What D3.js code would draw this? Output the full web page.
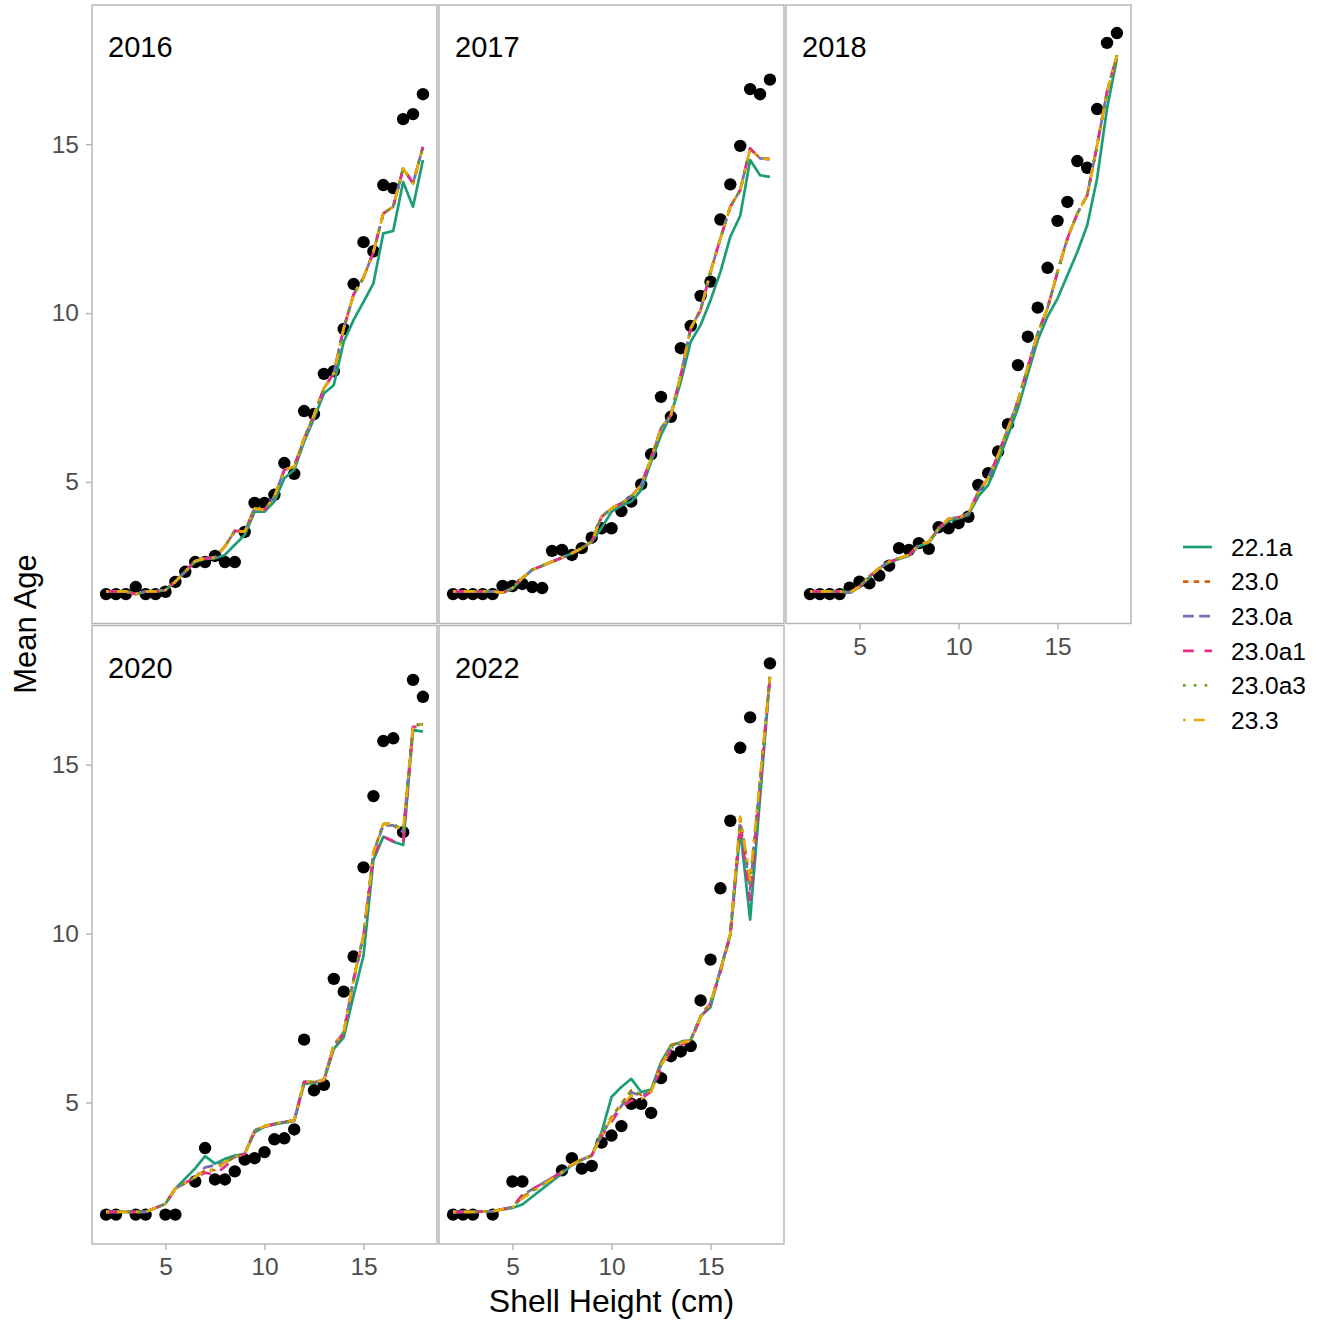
<!DOCTYPE html>
<html>
<head>
<meta charset="utf-8">
<script src="https://cdn.jsdelivr.net/npm/d3@7"></script>
<style>
  body { margin: 0; background: #fff; }
  text { font-family: "Liberation Sans", Arial, sans-serif; }
</style>
</head>
<body>
<div id="chart"></div>
<script>
// ---- data ----
var models = ["22.1a", "23.0", "23.0a", "23.0a1", "23.0a3", "23.3"];
var years = ["2016", "2017", "2018", "2020", "2022"];
var xTicks = [5, 10, 15];
var yTicks = [5, 10, 15];

// 2016
var len2016 = [2.0,2.5,3.0,3.5,4.0,4.5,5.0,5.5,6.0,6.5,7.0,7.5,8.0,8.5,9.0,9.5,10.0,10.5,11.0,11.5,12.0,12.5,13.0,13.5,14.0,14.5,15.0,15.5,16.0,16.5,17.0,17.5,18.0];
var obs2016 = [1.68,1.68,1.68,1.89,1.68,1.68,1.75,2.04,2.34,2.63,2.63,2.81,2.63,2.63,3.52,4.38,4.38,4.62,5.56,5.24,7.10,7.01,8.20,8.28,9.53,10.86,12.10,11.83,13.79,13.70,15.74,15.89,16.48];
var fit221a_2016 = [1.76,1.76,1.76,1.68,1.76,1.76,1.80,2.05,2.35,2.63,2.72,2.74,2.84,3.14,3.43,4.12,4.12,4.42,5.11,5.36,6.19,6.88,7.62,7.87,9.15,9.80,10.33,10.88,12.36,12.43,13.88,13.15,14.53];
var fit23_2016 = [1.76,1.76,1.76,1.68,1.76,1.76,1.80,2.05,2.35,2.66,2.74,2.76,3.09,3.55,3.53,4.22,4.17,4.57,5.36,5.45,6.29,6.98,7.77,8.22,9.55,10.55,11.05,11.81,12.95,13.15,14.28,13.84,14.92];

// 2017
var len2017 = [2.0,2.5,3.0,3.5,4.0,4.5,5.0,5.5,6.0,6.5,7.0,7.5,8.0,8.5,9.0,9.5,10.0,10.5,11.0,11.5,12.0,12.5,13.0,13.5,14.0,14.5,15.0,15.5,16.0,16.5,17.0,17.5,18.0];
var obs2017 = [1.68,1.68,1.68,1.68,1.68,1.92,1.92,1.98,1.89,1.86,2.96,2.99,2.84,3.04,3.35,3.63,3.63,4.14,4.42,4.93,5.82,7.52,6.93,8.96,9.62,10.51,10.93,12.77,13.81,14.95,16.63,16.48,16.91];
var fit221a_2017 = [1.76,1.76,1.76,1.76,1.76,1.72,1.84,2.14,2.40,2.52,2.64,2.76,2.89,3.04,3.23,3.64,4.12,4.30,4.42,4.76,5.60,6.39,6.98,7.97,9.15,9.65,10.38,11.22,12.26,12.88,14.53,14.08,14.03];
var fit23_2017 = [1.76,1.76,1.76,1.76,1.76,1.72,1.86,2.16,2.40,2.52,2.64,2.76,2.89,3.04,3.23,3.97,4.22,4.37,4.57,4.91,5.70,6.59,6.98,8.17,9.55,10.09,11.22,12.21,13.15,13.64,14.87,14.58,14.56];

// 2018
var len2018 = [2.5,3.0,3.5,4.0,4.5,5.0,5.5,6.0,6.5,7.0,7.5,8.0,8.5,9.0,9.5,10.0,10.5,11.0,11.5,12.0,12.5,13.0,13.5,14.0,14.5,15.0,15.5,16.0,16.5,17.0,17.5,18.0];
var obs2018 = [1.68,1.68,1.68,1.68,1.87,2.05,2.00,2.23,2.52,3.04,2.99,3.19,3.02,3.66,3.63,3.78,3.97,4.91,5.26,5.90,6.71,8.46,9.30,10.16,11.34,12.73,13.29,14.50,14.30,16.04,18.00,18.29];
var fit221a_2018 = [1.76,1.76,1.76,1.76,1.74,1.88,2.18,2.45,2.62,2.72,2.82,3.10,3.20,3.60,3.85,3.92,4.02,4.57,4.91,5.60,6.39,7.18,8.20,9.20,9.90,10.43,11.12,11.81,12.60,13.99,16.06,17.54];
var fit23_2018 = [1.76,1.76,1.76,1.76,1.72,1.90,2.20,2.45,2.64,2.74,2.84,3.14,3.23,3.63,3.91,3.95,4.07,4.71,5.11,5.80,6.59,7.40,8.40,9.40,10.15,11.22,12.21,12.95,13.49,14.97,16.55,17.63];

// 2020
var len2020 = [2.0,2.5,3.5,4.0,5.0,5.5,6.5,7.0,7.5,8.0,8.5,9.0,9.5,10.0,10.5,11.0,11.5,12.0,12.5,13.0,13.5,14.0,14.5,15.0,15.5,16.0,16.5,17.0,17.5,18.0];
var obs2020 = [1.68,1.68,1.68,1.68,1.68,1.68,2.66,3.65,2.72,2.72,2.96,3.31,3.35,3.53,3.91,3.94,4.20,6.86,5.36,5.52,8.66,8.28,9.32,11.96,14.07,15.70,15.78,13.00,17.51,17.01];
var fit221a_2020 = [1.76,1.76,1.76,1.76,2.00,2.45,3.05,3.41,3.19,3.33,3.43,3.48,4.12,4.28,4.35,4.40,4.45,5.55,5.58,5.65,6.59,6.93,8.17,9.35,12.18,12.87,12.72,12.62,16.03,15.98];
var fit23_2020 = [1.76,1.76,1.76,1.76,2.00,2.45,2.79,2.99,3.00,3.23,3.38,3.48,4.17,4.30,4.37,4.42,4.47,5.62,5.60,5.68,6.69,7.08,8.66,9.94,12.40,13.25,13.25,13.05,16.15,16.20];
var fit230a_2020 = [1.76,1.76,1.76,1.76,2.00,2.45,2.79,3.08,3.14,3.23,3.38,3.48,4.17,4.30,4.37,4.42,4.47,5.62,5.60,5.68,6.69,7.08,8.66,9.94,12.40,13.20,13.20,13.00,16.15,16.20];
var fit230a1_2020 = [1.76,1.76,1.76,1.76,2.00,2.45,2.79,2.92,2.86,3.10,3.36,3.48,4.15,4.28,4.36,4.42,4.47,5.60,5.58,5.66,6.65,7.05,8.60,9.90,12.30,12.87,12.74,12.66,16.12,16.12];

// 2022
var len2022 = [2.0,2.5,3.0,4.0,5.0,5.5,7.5,8.0,8.5,9.0,9.5,10.0,10.5,11.0,11.5,12.0,12.5,13.0,13.5,14.0,14.5,15.0,15.5,16.0,16.5,17.0,18.0];
var obs2022 = [1.68,1.68,1.68,1.68,2.66,2.66,2.99,3.35,3.04,3.12,3.81,4.02,4.30,4.96,4.96,4.69,5.72,6.37,6.51,6.67,8.02,9.23,11.34,13.34,15.50,16.40,18.00];
var fit221a_2022 = [1.76,1.76,1.76,1.78,1.88,1.98,2.90,3.14,3.30,3.43,4.12,5.16,5.46,5.70,5.31,5.38,6.19,6.69,6.78,6.85,7.55,7.82,8.95,9.95,13.07,10.41,17.60];
var fit230_2022 = [1.76,1.76,1.76,1.78,1.90,2.20,2.94,3.16,3.31,3.43,4.05,4.57,4.96,5.36,5.23,5.36,6.14,6.69,6.80,6.86,7.55,7.97,8.90,10.00,13.40,11.50,17.60];
var fit230a_2022 = [1.76,1.76,1.76,1.78,1.90,2.26,2.94,3.16,3.31,3.43,4.05,4.50,4.90,5.30,5.20,5.33,6.10,6.62,6.76,6.84,7.52,7.95,8.90,10.00,13.30,11.30,17.60];
var fit230a1_2022 = [1.76,1.76,1.76,1.78,1.90,2.26,2.94,3.16,3.31,3.43,4.00,4.42,4.86,5.06,5.11,5.33,6.00,6.54,6.72,6.82,7.50,7.92,8.85,9.95,13.20,11.00,17.60];
var fit233_2022 = [1.76,1.76,1.76,1.78,1.90,2.16,2.94,3.16,3.31,3.43,4.02,4.52,4.90,5.21,5.11,5.31,6.09,6.62,6.76,6.84,7.52,7.95,8.90,10.00,13.46,11.59,17.60];

// ---- styles ----
var modelColors = ["#1B9E77", "#D95F02", "#7570B3", "#E7298A", "#66A61E", "#E6AB02"];
var modelDash = [[], [2, 2], [4, 2], [4, 4], [1, 3], [1, 3, 4, 3]]; // ggplot lty, in line widths
var lw = 2.7;
var borderColor = "#b3b3b3";

// table for the facets
var lengths = [len2016, len2017, len2018, len2020, len2022];
var observed = [obs2016, obs2017, obs2018, obs2020, obs2022];
var fitted = [
  [fit221a_2016, fit23_2016, fit23_2016, fit23_2016, fit23_2016, fit23_2016],
  [fit221a_2017, fit23_2017, fit23_2017, fit23_2017, fit23_2017, fit23_2017],
  [fit221a_2018, fit23_2018, fit23_2018, fit23_2018, fit23_2018, fit23_2018],
  [fit221a_2020, fit23_2020, fit230a_2020, fit230a1_2020, fit23_2020, fit23_2020],
  [fit221a_2022, fit230_2022, fit230a_2022, fit230a1_2022, fit230_2022, fit233_2022]
];

var W = 1328, H = 1325;
var panelW = 345, panelH = 618.5;
var panelLeft = [92, 439, 786];
var panelTop = [5, 625.5];

var svg = d3.select("#chart").append("svg")
  .attr("width", W)
  .attr("height", H);

var x = d3.scaleLinear().domain([1.29, 18.71]);
var yDomain = [0.81, 19.12];

years.forEach(function(year, i) {
  var col = i % 3, row = Math.floor(i / 3);
  var x0 = panelLeft[col], y0 = panelTop[row];
  var xs = x.copy().range([x0, x0 + panelW]);
  var ys = d3.scaleLinear().domain(yDomain).range([y0 + panelH, y0]);

  var g = svg.append("g").attr("class", "panel-" + year);

  // points
  g.selectAll("circle")
    .data(d3.zip(lengths[i], observed[i]))
    .enter().append("circle")
    .attr("cx", function(d) { return xs(d[0]); })
    .attr("cy", function(d) { return ys(d[1]); })
    .attr("r", 6.2)
    .style("fill", "#000");

  // model lines
  var line = d3.line()
    .x(function(d) { return xs(d[0]); })
    .y(function(d) { return ys(d[1]); });

  models.forEach(function(m, k) {
    g.append("path")
      .datum(d3.zip(lengths[i], fitted[i][k]))
      .attr("d", line)
      .style("fill", "none")
      .style("stroke", modelColors[k])
      .style("stroke-width", lw)
      .style("stroke-linejoin", "round")
      .style("stroke-dasharray", modelDash[k].map(function(v) { return v * lw; }).join(" "));
  });

  // border
  g.append("rect")
    .attr("x", x0).attr("y", y0)
    .attr("width", panelW).attr("height", panelH)
    .style("fill", "none")
    .style("stroke", borderColor)
    .style("stroke-width", 1.4);

  // year label
  g.append("text")
    .attr("x", x0 + 16)
    .attr("y", y0 + 52)
    .style("font-size", "29px")
    .style("fill", "#000")
    .text(year);

  // axes
  var hasXAxis = (row === 1) || (col === 2);
  if (hasXAxis) {
    var ax = g.append("g")
      .attr("transform", "translate(0," + (y0 + panelH) + ")")
      .call(d3.axisBottom(xs).tickValues(xTicks).tickSize(6).tickPadding(8));
    styleAxis(ax);
  }
  if (col === 0) {
    var ay = g.append("g")
      .attr("transform", "translate(" + x0 + ",0)")
      .call(d3.axisLeft(ys).tickValues(yTicks).tickSize(6).tickPadding(7));
    styleAxis(ay);
  }
});

function styleAxis(a) {
  a.select(".domain").remove();
  a.selectAll(".tick line").style("stroke", borderColor).style("stroke-width", 1.4);
  a.selectAll(".tick text")
    .style("font-size", "24.5px")
    .style("fill", "#4d4d4d")
    .style("font-family", "'Liberation Sans', Arial, sans-serif");
}

// axis titles
svg.append("text")
  .attr("x", (panelLeft[0] + panelLeft[2] + panelW) / 2)
  .attr("y", 1312)
  .attr("text-anchor", "middle")
  .style("font-size", "32px")
  .text("Shell Height (cm)");

svg.append("text")
  .attr("transform", "translate(36,624) rotate(-90)")
  .attr("text-anchor", "middle")
  .style("font-size", "31px")
  .text("Mean Age");

// legend
var legend = svg.append("g").attr("transform", "translate(1183,547)");
models.forEach(function(m, k) {
  var row = legend.append("g").attr("transform", "translate(0," + (k * 34.6) + ")");
  row.append("line")
    .attr("x1", 0).attr("x2", 29)
    .attr("y1", 0).attr("y2", 0)
    .style("stroke", modelColors[k])
    .style("stroke-width", lw)
    .style("stroke-dasharray", modelDash[k].map(function(v) { return v * lw; }).join(" "));
  row.append("text")
    .attr("x", 48)
    .attr("y", 8.8)
    .style("font-size", "24.5px")
    .text(m);
});
</script>
</body>
</html>
